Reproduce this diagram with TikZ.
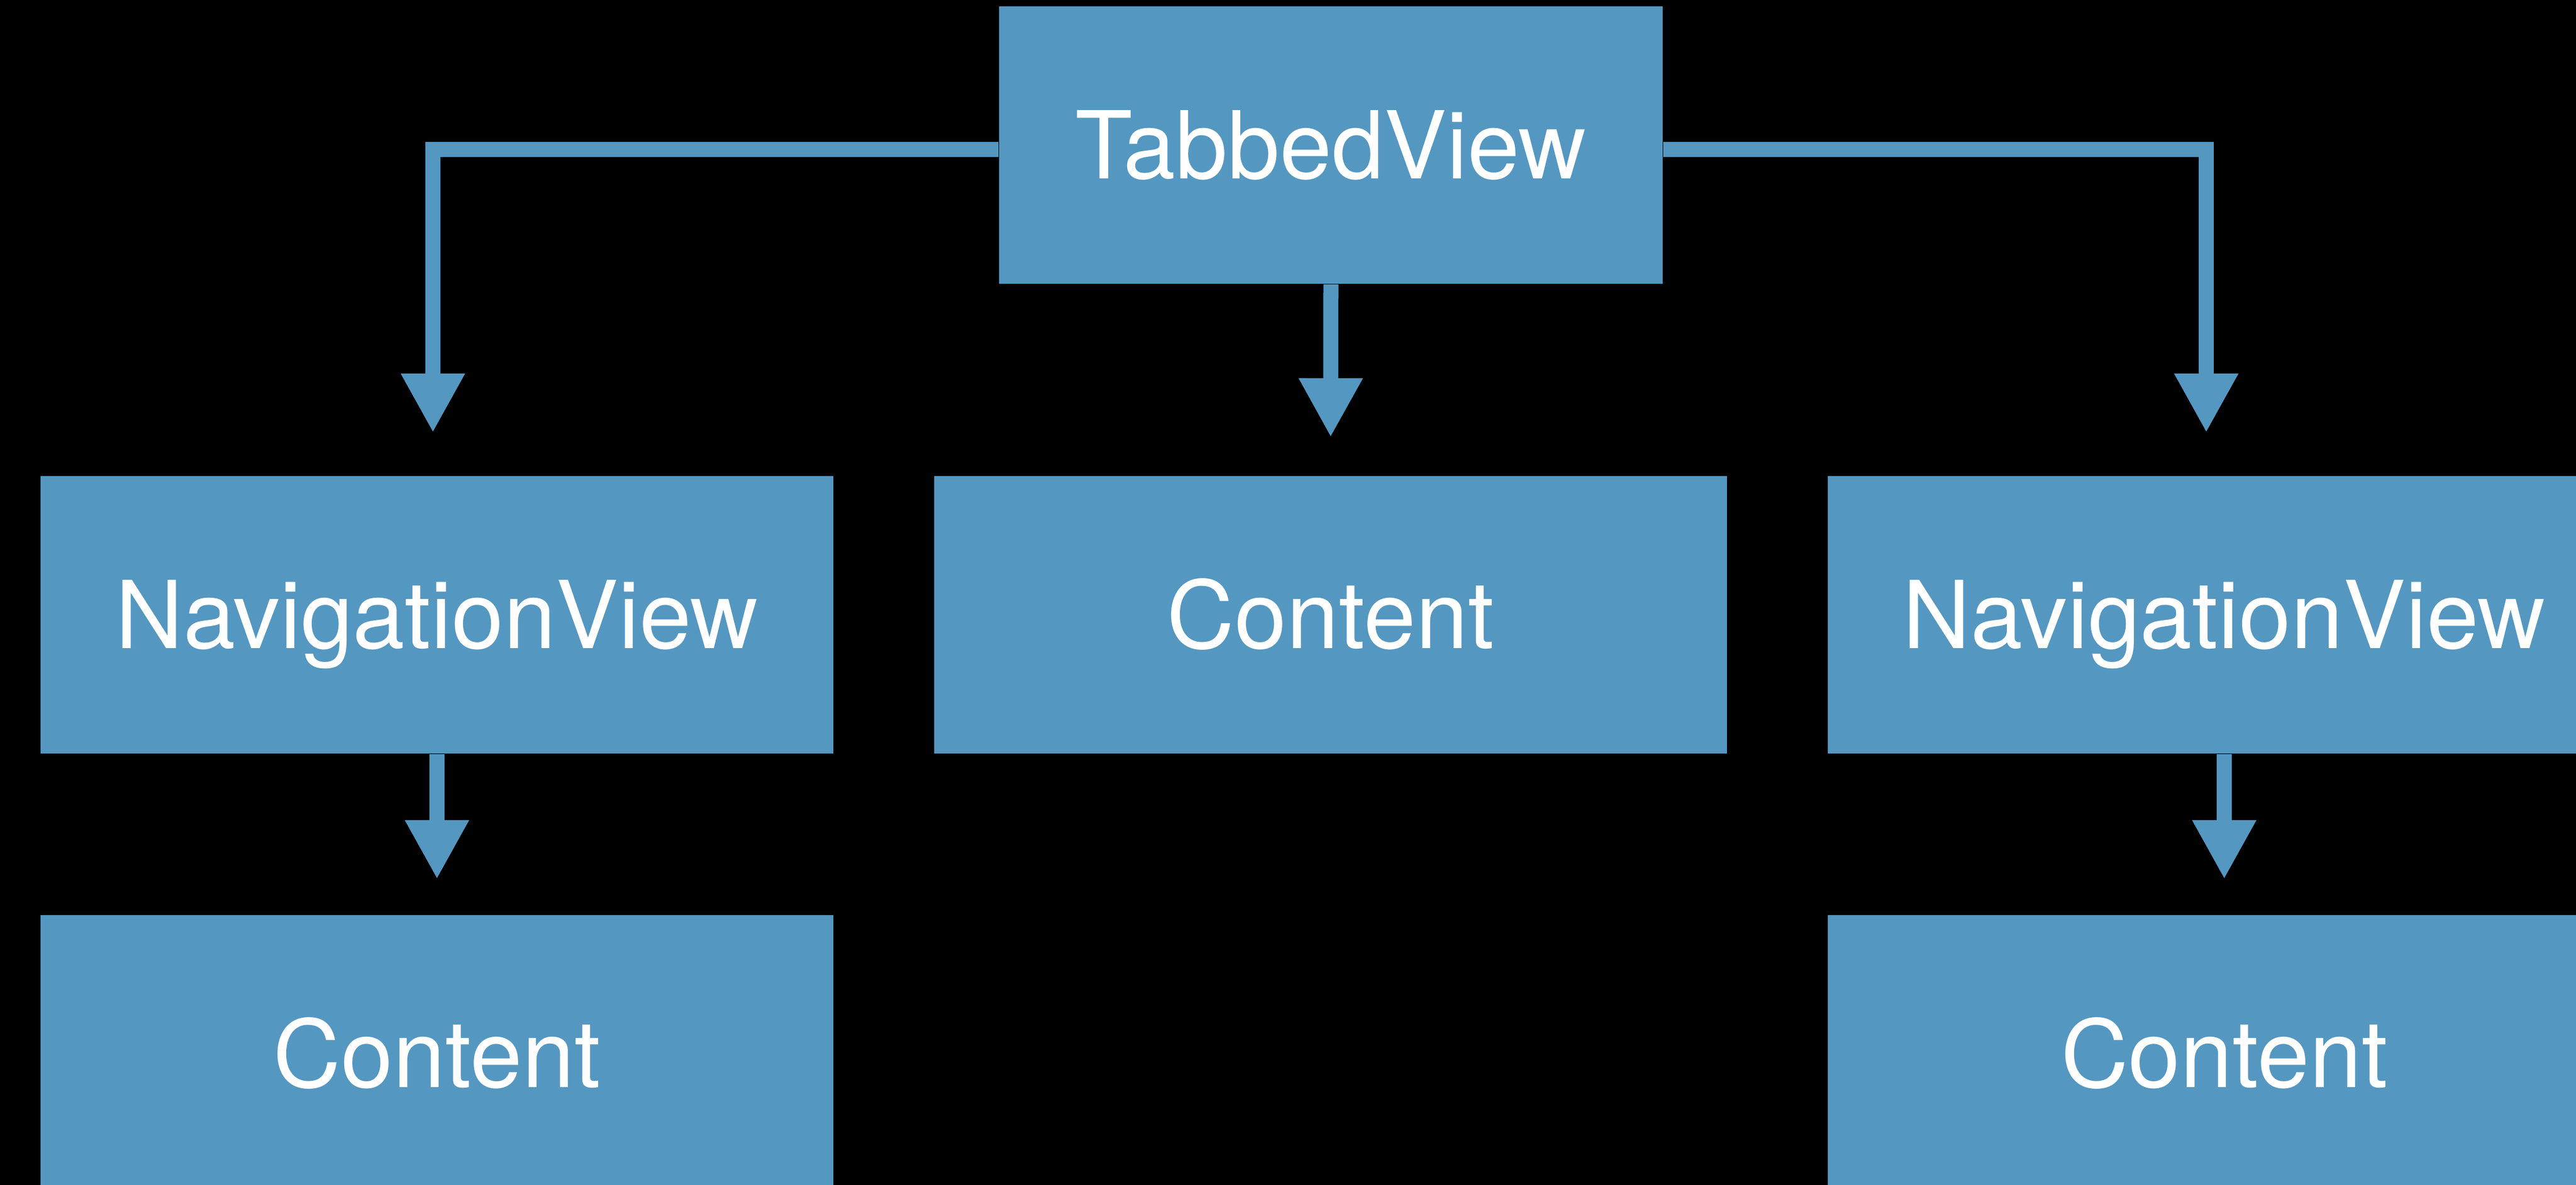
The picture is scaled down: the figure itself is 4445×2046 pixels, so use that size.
\documentclass[tikz,border=0pt]{standalone}
\usepackage{fontspec}
\setmainfont{TeX Gyre Heros}
\usetikzlibrary{arrows.meta}
\definecolor{viewblue}{RGB}{84,151,193}
\tikzstyle{box}=[rectangle, fill=viewblue, text=white, inner sep=0pt, minimum width=13.68cm, minimum height=4.79cm, font=\fontsize{46}{52}\selectfont, text height=33pt, text depth=0pt]
\tikzstyle{link}=[draw=viewblue, line width=0.26cm, -{Triangle[length=1.02cm, width=1.03cm]}]
\begin{document}
\begin{tikzpicture}[x=0.01cm, y=-0.01cm]
			% black background, also gives the page size
			\fill[black] (0,0) rectangle (4445,2046);
			\useasboundingbox (0,0) rectangle (4445,2046);
			% top view
			\node[box, minimum width=11.45cm] (tab) at (2296.5,250.5) {TabbedView};
			% second row
			\node[box] (navl) at (754,1061.5) {NavigationView};
			\node[box] (mid) at (2296,1061.5) {Content};
			\node[box] (navr) at (3838,1061.5) {NavigationView};
			% third row, cut off by the page
			\node[box] (contl) at (754,1819.5) {Content};
			\node[box] (contr) at (3838,1819.5) {Content};
			% arrows out of the tabbed view
			\draw[link, shorten >=0.74cm] ([yshift=-0.075cm]tab.west) -| ([xshift=-0.07cm]navl.north);
			\draw[link, shorten >=0.66cm] (tab.south) -- (mid.north);
			\draw[link, shorten >=0.74cm] ([yshift=-0.075cm]tab.east) -| ([xshift=-0.31cm]navr.north);
			% arrows down to the content, using a loop
			\foreach \a/\b in {navl/contl, navr/contr}{
				\draw[link, shorten >=0.61cm] (\a.south) -- (\b.north);
			}
		\end{tikzpicture}
\end{document}
